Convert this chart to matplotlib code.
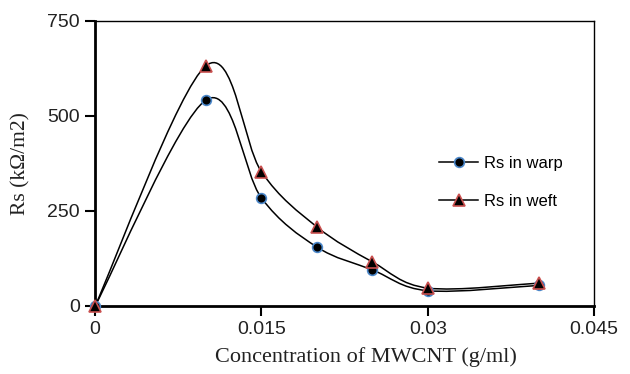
import numpy as np
import matplotlib.pyplot as plt
from matplotlib.path import Path
from matplotlib.patches import PathPatch
from matplotlib.lines import Line2D

conc = [0.0, 0.01, 0.015, 0.02, 0.025, 0.03, 0.04]
rs_warp = [0, 542, 284, 155, 95, 40, 54]
rs_weft = [0, 632, 353, 208, 116, 47, 60]

xticks = [0, 0.015, 0.03, 0.045]
xticklabels = ["0", "0.015", "0.03", "0.045"]
yticks = [0, 250, 500, 750]


def smooth_path(x, y):
    # excel-like smoothed line: cubic bezier, control points from neighbours
    pts = np.column_stack([x, y]).astype(float)
    n = len(pts)
    verts = [pts[0]]
    codes = [Path.MOVETO]
    for i in range(n - 1):
        p0 = pts[i - 1] if i > 0 else pts[i]
        p1 = pts[i]
        p2 = pts[i + 1]
        p3 = pts[i + 2] if i + 2 < n else pts[i + 1]
        c1 = p1 + (p2 - p0) / 6.0
        c2 = p2 - (p3 - p1) / 6.0
        verts += [c1, c2, p2]
        codes += [Path.CURVE4] * 3
    return Path(verts, codes)


fig = plt.figure(figsize=(6.3, 3.74), dpi=100)
ax = fig.add_axes([0.151, 0.182, 0.792, 0.762])

blue = "#4a86c8"
red = "#c9504f"

for ys in (rs_warp, rs_weft):
    ax.add_patch(PathPatch(smooth_path(conc, ys), facecolor="none",
                           edgecolor="black", lw=1.1, zorder=2))

ax.plot(conc, rs_warp, ls="none", marker="o", ms=7, mfc="black",
        mec=blue, mew=1.2, zorder=3, clip_on=False)
ax.plot(conc, rs_weft, ls="none", marker="^", ms=8, mfc="black",
        mec=red, mew=1.2, zorder=4, clip_on=False)

ax.set_xlim(0, 0.045)
ax.set_ylim(0, 750)
ax.set_xticks(xticks)
ax.set_xticklabels(xticklabels)
ax.set_yticks(yticks)

for s in ("left", "bottom"):
    ax.spines[s].set_linewidth(2.0)
for s in ("top", "right"):
    ax.spines[s].set_linewidth(1.0)

ax.tick_params(axis="both", direction="out", length=7, width=1.5,
               labelsize=14, pad=4)
for lab in ax.get_xticklabels() + ax.get_yticklabels():
    lab.set_fontfamily("Liberation Sans")
    lab.set_color("#222222")

ax.set_xlabel("Concentration of MWCNT (g/ml)", fontfamily="Liberation Serif",
              fontsize=16, labelpad=7, color="#222222")
ax.xaxis.set_label_coords(0.543, -0.145)
ax.set_ylabel("Rs (k\u03a9/m2)", fontfamily="Liberation Serif",
              fontsize=15.5, labelpad=12, color="#222222")

handles = [
    Line2D([], [], color="black", lw=1.1, marker="o", ms=7, mfc="black",
           mec=blue, mew=1.2),
    Line2D([], [], color="black", lw=1.1, marker="^", ms=8, mfc="black",
           mec=red, mew=1.2),
]
ax.legend(handles, ["Rs in warp", "Rs in weft"], frameon=False,
          loc="center left", bbox_to_anchor=(0.66, 0.433),
          prop={"family": "Liberation Sans", "size": 12},
          handlelength=2.3, handletextpad=0.4, labelspacing=1.35)

fig.savefig("out.png", dpi=100)
